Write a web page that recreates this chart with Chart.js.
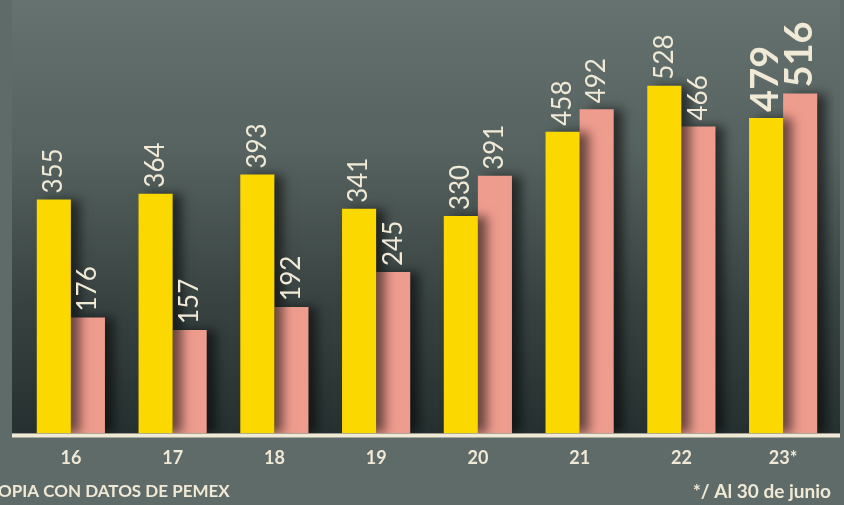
<!DOCTYPE html>
<html>
<head>
<meta charset="utf-8">
<script src="https://cdn.jsdelivr.net/npm/chart.js@4.4.1/dist/chart.umd.min.js"></script>
<style>
  html, body { margin: 0; padding: 0; background: #5f6b68; }
  #wrap { width: 844px; height: 505px; position: relative; }
</style>
</head>
<body>
<div id="wrap"><canvas id="myChart"></canvas></div>
<script>
(() => {
  'use strict'
  // datos
  const anios = ['16', '17', '18', '19', '20', '21', '22', '23*']
  const serieAmarilla = [355, 364, 393, 341, 330, 458, 528, 479]
  const serieRosa = [176, 157, 192, 245, 391, 492, 466, 516]

  const crema = '#efe9d6'

  // fondo: panel oscuro detras de las barras
  const fondo = {
    id: 'fondo',
    beforeDraw(chart) {
      const { ctx, chartArea } = chart
      ctx.save()
      ctx.fillStyle = '#5f6b68'
      ctx.fillRect(0, 0, chart.width, chart.height)
      const g = ctx.createLinearGradient(0, 0, 0, chartArea.bottom)
      g.addColorStop(0, '#66726f')
      g.addColorStop(0.35, '#56625f')
      g.addColorStop(0.7, '#384341')
      g.addColorStop(1, '#263030')
      ctx.fillStyle = g
      ctx.fillRect(12, 0, 828, chartArea.bottom)
      ctx.restore()
    }
  }

  // sombra a la derecha de las barras
  const sombra = {
    id: 'sombra',
    beforeDatasetsDraw(chart) {
      const ctx = chart.ctx
      ctx.save()
      ctx.shadowColor = 'rgba(0,0,0,0.55)'
      ctx.shadowOffsetX = 9
      ctx.shadowOffsetY = 0
      ctx.shadowBlur = 10
    },
    afterDatasetsDraw(chart) {
      chart.ctx.restore()
    }
  }

  // etiquetas verticales, eje y notas
  const etiquetas = {
    id: 'etiquetas',
    afterDraw(chart) {
      const { ctx, chartArea } = chart
      ctx.save()
      ctx.strokeStyle = crema
      ctx.lineWidth = 4
      ctx.beginPath()
      ctx.moveTo(12, chartArea.bottom + 2)
      ctx.lineTo(840, chartArea.bottom + 2)
      ctx.stroke()

      ctx.fillStyle = crema
      chart.data.datasets.forEach((ds, i) => {
        const meta = chart.getDatasetMeta(i)
        meta.data.forEach((bar, j) => {
          const ultimo = j === ds.data.length - 1
          ctx.save()
          ctx.translate(bar.x, bar.y - 6)
          ctx.rotate(-Math.PI / 2)
          ctx.font = ultimo ? 'bold 38px Lato' : '26px Lato'
          ctx.textAlign = 'left'
          ctx.textBaseline = 'middle'
          ctx.fillText(String(ds.data[j]), 0, 0)
          ctx.restore()
        })
      })

      ctx.font = 'bold 17px Lato'
      ctx.textBaseline = 'middle'
      ctx.textAlign = 'left'
      ctx.fillText('OPIA CON DATOS DE PEMEX', -2, 492)
      ctx.font = 'bold 19px Lato'
      ctx.textAlign = 'right'
      ctx.fillText('*/ Al 30 de junio', 831, 492)
      ctx.restore()
    }
  }

  // eslint-disable-next-line no-unused-vars
  const myChart = new Chart(document.getElementById('myChart'), {
    type: 'bar',
    data: {
      labels: anios,
      datasets: [
        { data: serieAmarilla, backgroundColor: '#fbd800', borderWidth: 0 },
        { data: serieRosa, backgroundColor: '#ee9c8e', borderWidth: 0 }
      ]
    },
    options: {
      responsive: true,
      maintainAspectRatio: false,
      animation: false,
      events: [],
      layout: { padding: { left: 20, right: 10, top: 0, bottom: 22 } },
      datasets: {
        bar: { barPercentage: 1, categoryPercentage: 0.67 }
      },
      scales: {
        x: {
          grid: { display: false, drawTicks: false },
          border: { display: false },
          ticks: {
            color: crema,
            font: { family: 'Lato', weight: 'bold', size: 18 },
            padding: 14
          }
        },
        y: {
          display: false,
          min: 0,
          max: 658
        }
      },
      plugins: {
        legend: { display: false },
        tooltip: { enabled: false }
      }
    },
    plugins: [fondo, sombra, etiquetas]
  })
})()
</script>
</body>
</html>
